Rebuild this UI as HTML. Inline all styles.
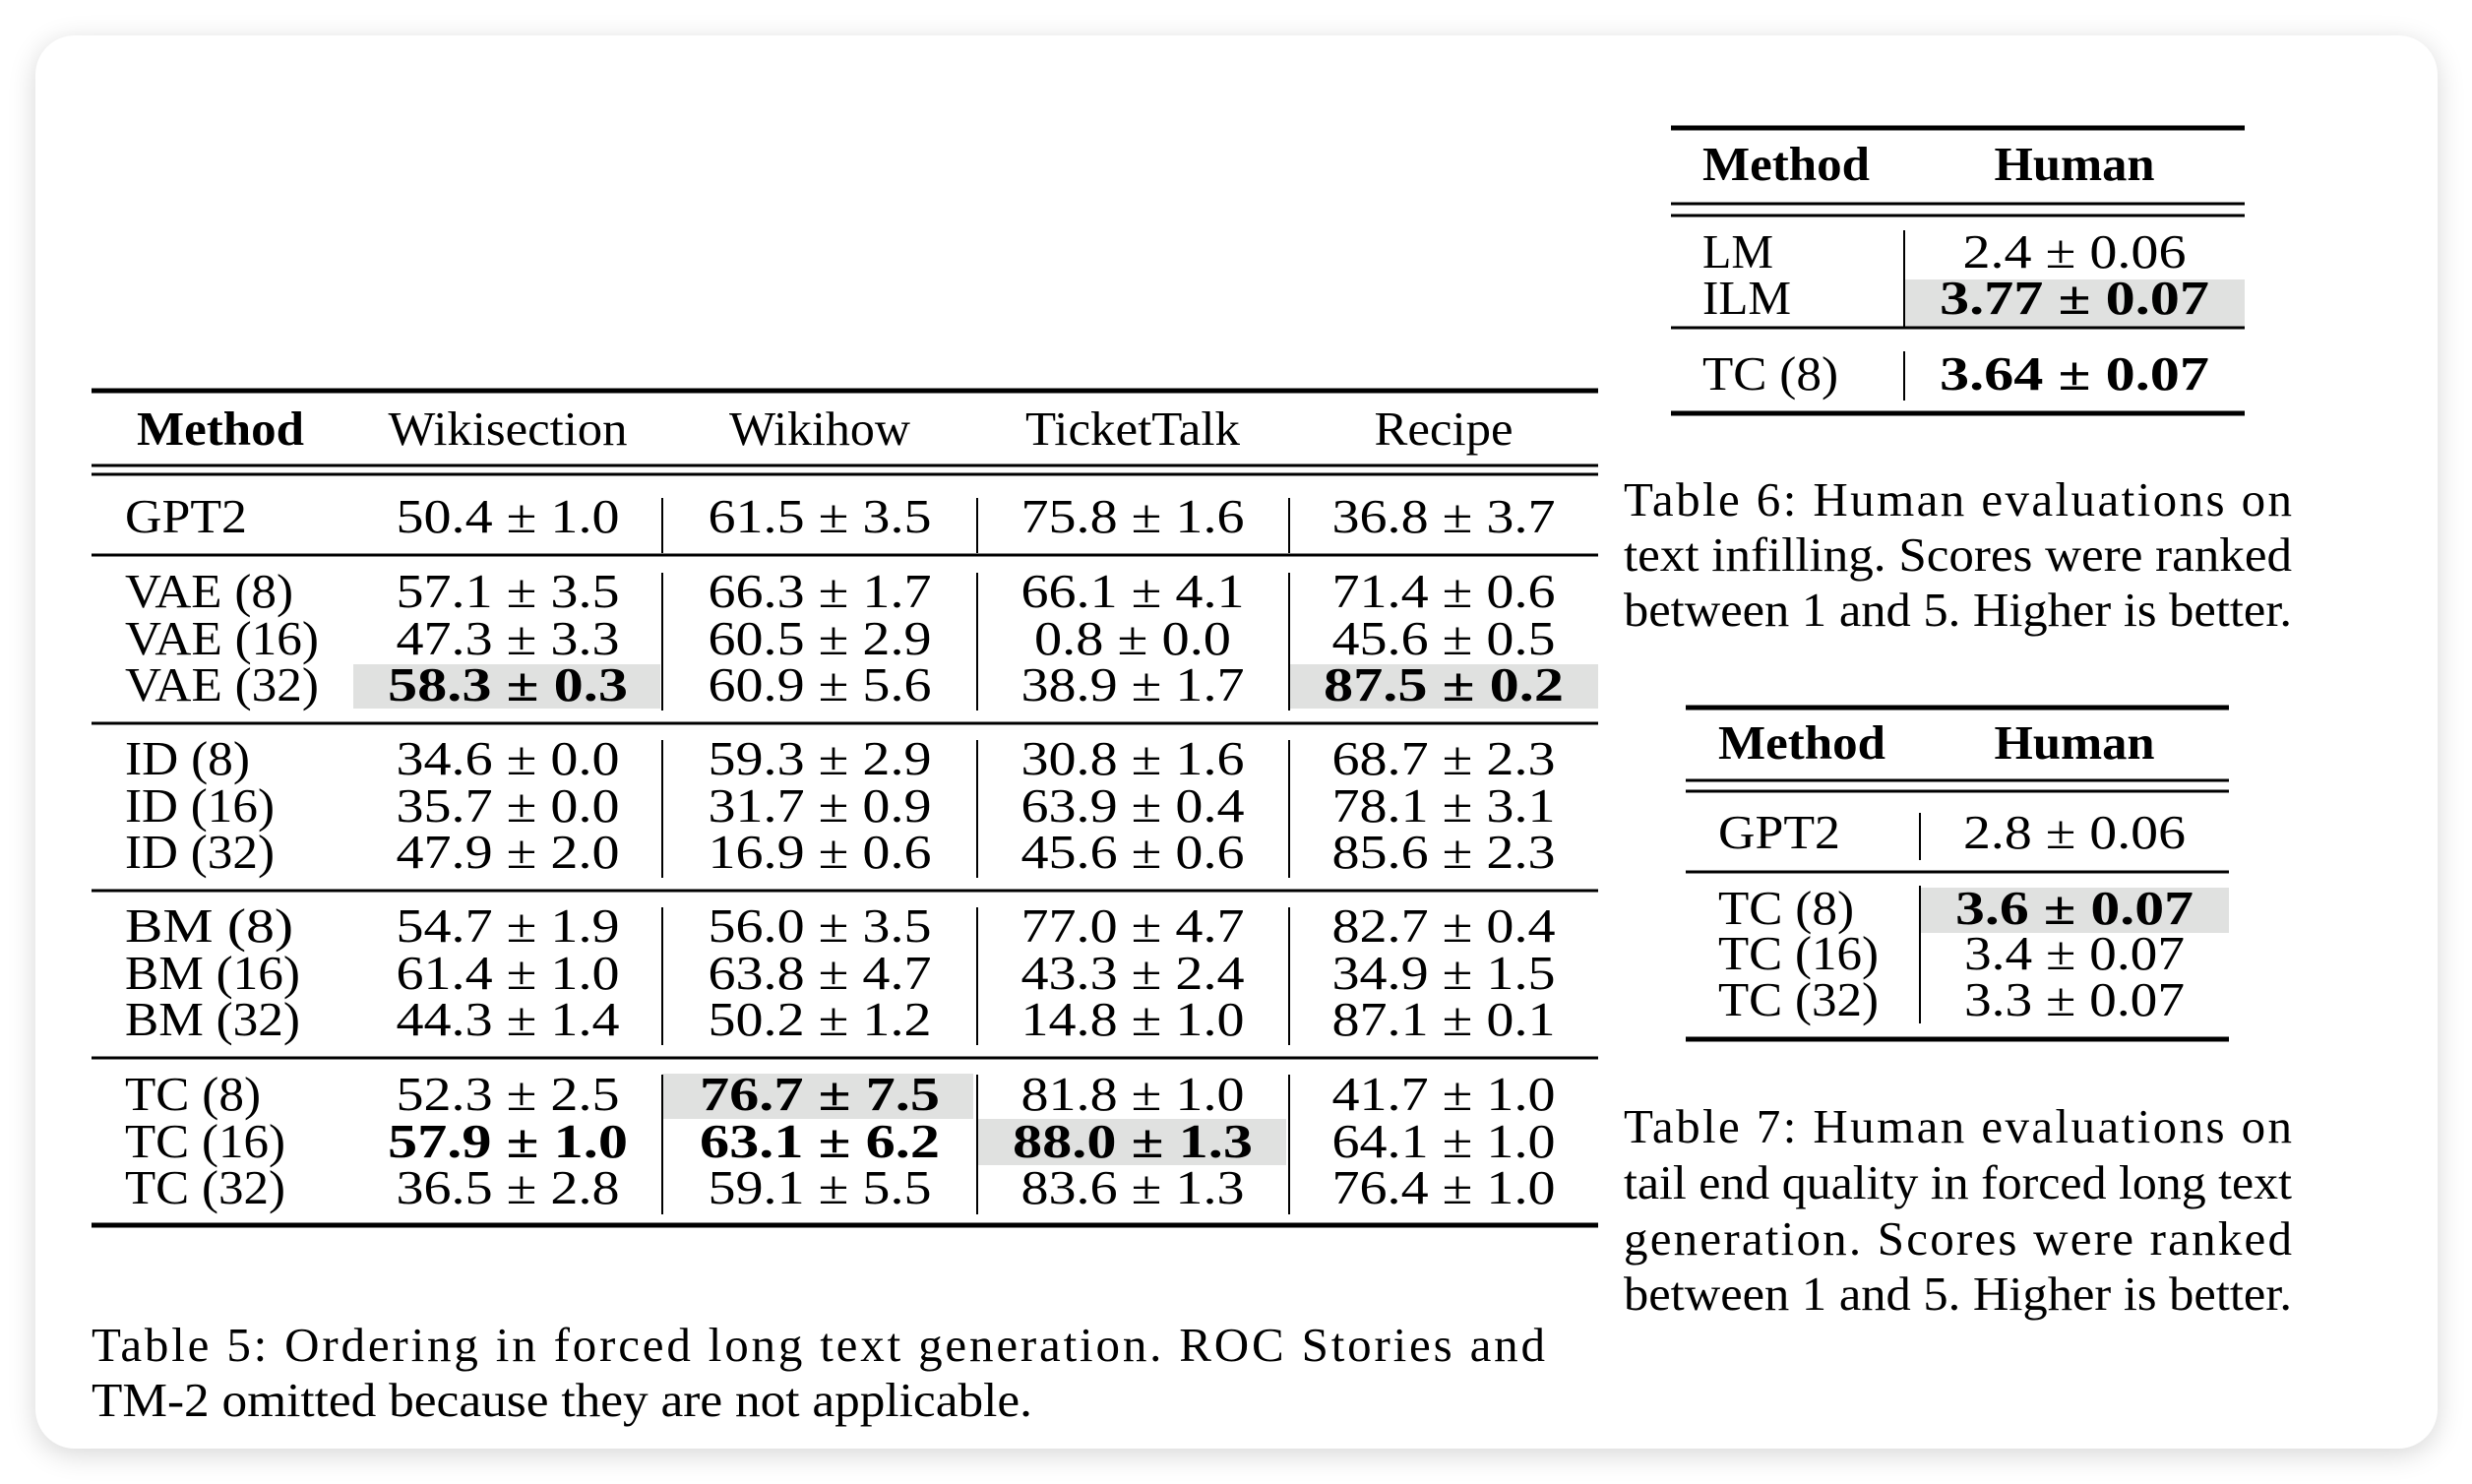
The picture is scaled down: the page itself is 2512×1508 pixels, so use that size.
<!DOCTYPE html>
<html><head><meta charset="utf-8"><style>
html,body{margin:0;padding:0;background:#fff;}
.wrap{position:relative;width:2512px;height:1508px;overflow:hidden;background:#fff;}
.card{position:absolute;left:36px;top:36px;width:2441px;height:1436px;background:#fff;border-radius:40px;box-shadow:0 6px 28px rgba(0,0,0,0.16);}
svg{position:absolute;left:0;top:0;}
svg text{font-family:"Liberation Serif","Times New Roman",Times,serif;font-size:49px;fill:#000;}
.b{font-weight:bold;}
.c{text-anchor:middle;}
</style></head><body><div class="wrap"><div class="card"></div>
<svg width="2512" height="1508" viewBox="0 0 2512 1508" font-family="Liberation Serif, Times New Roman, serif">
<g fill="#e0e1e0">
<rect x="359" y="675" width="312" height="45"/>
<rect x="1310" y="675" width="314" height="45"/>
<rect x="673" y="1091" width="316" height="46"/>
<rect x="993" y="1137" width="314" height="47"/>
<rect x="1935" y="284" width="346" height="48"/>
<rect x="1951" y="902" width="314" height="46"/>
</g>
<g stroke="#000">
<line x1="93" x2="1624" y1="397" y2="397" stroke-width="5"/>
<line x1="93" x2="1624" y1="473" y2="473" stroke-width="3"/>
<line x1="93" x2="1624" y1="482" y2="482" stroke-width="3"/>
<line x1="93" x2="1624" y1="564" y2="564" stroke-width="3"/>
<line x1="93" x2="1624" y1="735" y2="735" stroke-width="3"/>
<line x1="93" x2="1624" y1="905" y2="905" stroke-width="3"/>
<line x1="93" x2="1624" y1="1075" y2="1075" stroke-width="3"/>
<line x1="93" x2="1624" y1="1245" y2="1245" stroke-width="5"/>
</g>
<g stroke="#000" stroke-width="2">
<line x1="673" x2="673" y1="506" y2="562"/><line x1="993" x2="993" y1="506" y2="562"/><line x1="1310" x2="1310" y1="506" y2="562"/>
<line x1="673" x2="673" y1="582" y2="722"/><line x1="993" x2="993" y1="582" y2="722"/><line x1="1310" x2="1310" y1="582" y2="722"/>
<line x1="673" x2="673" y1="752" y2="892"/><line x1="993" x2="993" y1="752" y2="892"/><line x1="1310" x2="1310" y1="752" y2="892"/>
<line x1="673" x2="673" y1="922" y2="1062"/><line x1="993" x2="993" y1="922" y2="1062"/><line x1="1310" x2="1310" y1="922" y2="1062"/>
<line x1="673" x2="673" y1="1092" y2="1234"/><line x1="993" x2="993" y1="1092" y2="1234"/><line x1="1310" x2="1310" y1="1092" y2="1234"/>
</g>
<text class="b c" x="224" y="452" textLength="170" lengthAdjust="spacingAndGlyphs">Method</text>
<text class="c" x="516" y="452" textLength="243" lengthAdjust="spacingAndGlyphs">Wikisection</text>
<text class="c" x="833" y="452" textLength="184" lengthAdjust="spacingAndGlyphs">Wikihow</text>
<text class="c" x="1151" y="452" textLength="218" lengthAdjust="spacingAndGlyphs">TicketTalk</text>
<text class="c" x="1467" y="452" textLength="141" lengthAdjust="spacingAndGlyphs">Recipe</text>
<g>
<text x="127" y="541" textLength="124" lengthAdjust="spacingAndGlyphs">GPT2</text>
<text x="127" y="617" textLength="171" lengthAdjust="spacingAndGlyphs">VAE (8)</text>
<text x="127" y="665" textLength="197" lengthAdjust="spacingAndGlyphs">VAE (16)</text>
<text x="127" y="712" textLength="197" lengthAdjust="spacingAndGlyphs">VAE (32)</text>
<text x="127" y="787" textLength="127" lengthAdjust="spacingAndGlyphs">ID (8)</text>
<text x="127" y="835" textLength="152" lengthAdjust="spacingAndGlyphs">ID (16)</text>
<text x="127" y="882" textLength="152" lengthAdjust="spacingAndGlyphs">ID (32)</text>
<text x="127" y="957" textLength="171" lengthAdjust="spacingAndGlyphs">BM (8)</text>
<text x="127" y="1005" textLength="178" lengthAdjust="spacingAndGlyphs">BM (16)</text>
<text x="127" y="1052" textLength="178" lengthAdjust="spacingAndGlyphs">BM (32)</text>
<text x="127" y="1128" textLength="138" lengthAdjust="spacingAndGlyphs">TC (8)</text>
<text x="127" y="1176" textLength="163" lengthAdjust="spacingAndGlyphs">TC (16)</text>
<text x="127" y="1223" textLength="163" lengthAdjust="spacingAndGlyphs">TC (32)</text>
</g>
<g>
<text class="c" x="516" y="541" textLength="227" lengthAdjust="spacingAndGlyphs">50.4 ± 1.0</text>
<text class="c" x="833" y="541" textLength="227" lengthAdjust="spacingAndGlyphs">61.5 ± 3.5</text>
<text class="c" x="1151" y="541" textLength="227" lengthAdjust="spacingAndGlyphs">75.8 ± 1.6</text>
<text class="c" x="1467" y="541" textLength="227" lengthAdjust="spacingAndGlyphs">36.8 ± 3.7</text>
<text class="c" x="516" y="617" textLength="227" lengthAdjust="spacingAndGlyphs">57.1 ± 3.5</text>
<text class="c" x="833" y="617" textLength="227" lengthAdjust="spacingAndGlyphs">66.3 ± 1.7</text>
<text class="c" x="1151" y="617" textLength="227" lengthAdjust="spacingAndGlyphs">66.1 ± 4.1</text>
<text class="c" x="1467" y="617" textLength="227" lengthAdjust="spacingAndGlyphs">71.4 ± 0.6</text>
<text class="c" x="516" y="665" textLength="227" lengthAdjust="spacingAndGlyphs">47.3 ± 3.3</text>
<text class="c" x="833" y="665" textLength="227" lengthAdjust="spacingAndGlyphs">60.5 ± 2.9</text>
<text class="c" x="1151" y="665" textLength="200" lengthAdjust="spacingAndGlyphs">0.8 ± 0.0</text>
<text class="c" x="1467" y="665" textLength="227" lengthAdjust="spacingAndGlyphs">45.6 ± 0.5</text>
<text class="c b" x="516" y="712" textLength="244" lengthAdjust="spacingAndGlyphs">58.3 ± 0.3</text>
<text class="c" x="833" y="712" textLength="227" lengthAdjust="spacingAndGlyphs">60.9 ± 5.6</text>
<text class="c" x="1151" y="712" textLength="227" lengthAdjust="spacingAndGlyphs">38.9 ± 1.7</text>
<text class="c b" x="1467" y="712" textLength="244" lengthAdjust="spacingAndGlyphs">87.5 ± 0.2</text>
<text class="c" x="516" y="787" textLength="227" lengthAdjust="spacingAndGlyphs">34.6 ± 0.0</text>
<text class="c" x="833" y="787" textLength="227" lengthAdjust="spacingAndGlyphs">59.3 ± 2.9</text>
<text class="c" x="1151" y="787" textLength="227" lengthAdjust="spacingAndGlyphs">30.8 ± 1.6</text>
<text class="c" x="1467" y="787" textLength="227" lengthAdjust="spacingAndGlyphs">68.7 ± 2.3</text>
<text class="c" x="516" y="835" textLength="227" lengthAdjust="spacingAndGlyphs">35.7 ± 0.0</text>
<text class="c" x="833" y="835" textLength="227" lengthAdjust="spacingAndGlyphs">31.7 ± 0.9</text>
<text class="c" x="1151" y="835" textLength="227" lengthAdjust="spacingAndGlyphs">63.9 ± 0.4</text>
<text class="c" x="1467" y="835" textLength="227" lengthAdjust="spacingAndGlyphs">78.1 ± 3.1</text>
<text class="c" x="516" y="882" textLength="227" lengthAdjust="spacingAndGlyphs">47.9 ± 2.0</text>
<text class="c" x="833" y="882" textLength="227" lengthAdjust="spacingAndGlyphs">16.9 ± 0.6</text>
<text class="c" x="1151" y="882" textLength="227" lengthAdjust="spacingAndGlyphs">45.6 ± 0.6</text>
<text class="c" x="1467" y="882" textLength="227" lengthAdjust="spacingAndGlyphs">85.6 ± 2.3</text>
<text class="c" x="516" y="957" textLength="227" lengthAdjust="spacingAndGlyphs">54.7 ± 1.9</text>
<text class="c" x="833" y="957" textLength="227" lengthAdjust="spacingAndGlyphs">56.0 ± 3.5</text>
<text class="c" x="1151" y="957" textLength="227" lengthAdjust="spacingAndGlyphs">77.0 ± 4.7</text>
<text class="c" x="1467" y="957" textLength="227" lengthAdjust="spacingAndGlyphs">82.7 ± 0.4</text>
<text class="c" x="516" y="1005" textLength="227" lengthAdjust="spacingAndGlyphs">61.4 ± 1.0</text>
<text class="c" x="833" y="1005" textLength="227" lengthAdjust="spacingAndGlyphs">63.8 ± 4.7</text>
<text class="c" x="1151" y="1005" textLength="227" lengthAdjust="spacingAndGlyphs">43.3 ± 2.4</text>
<text class="c" x="1467" y="1005" textLength="227" lengthAdjust="spacingAndGlyphs">34.9 ± 1.5</text>
<text class="c" x="516" y="1052" textLength="227" lengthAdjust="spacingAndGlyphs">44.3 ± 1.4</text>
<text class="c" x="833" y="1052" textLength="227" lengthAdjust="spacingAndGlyphs">50.2 ± 1.2</text>
<text class="c" x="1151" y="1052" textLength="227" lengthAdjust="spacingAndGlyphs">14.8 ± 1.0</text>
<text class="c" x="1467" y="1052" textLength="227" lengthAdjust="spacingAndGlyphs">87.1 ± 0.1</text>
<text class="c" x="516" y="1128" textLength="227" lengthAdjust="spacingAndGlyphs">52.3 ± 2.5</text>
<text class="c b" x="833" y="1128" textLength="244" lengthAdjust="spacingAndGlyphs">76.7 ± 7.5</text>
<text class="c" x="1151" y="1128" textLength="227" lengthAdjust="spacingAndGlyphs">81.8 ± 1.0</text>
<text class="c" x="1467" y="1128" textLength="227" lengthAdjust="spacingAndGlyphs">41.7 ± 1.0</text>
<text class="c b" x="516" y="1176" textLength="244" lengthAdjust="spacingAndGlyphs">57.9 ± 1.0</text>
<text class="c b" x="833" y="1176" textLength="244" lengthAdjust="spacingAndGlyphs">63.1 ± 6.2</text>
<text class="c b" x="1151" y="1176" textLength="244" lengthAdjust="spacingAndGlyphs">88.0 ± 1.3</text>
<text class="c" x="1467" y="1176" textLength="227" lengthAdjust="spacingAndGlyphs">64.1 ± 1.0</text>
<text class="c" x="516" y="1223" textLength="227" lengthAdjust="spacingAndGlyphs">36.5 ± 2.8</text>
<text class="c" x="833" y="1223" textLength="227" lengthAdjust="spacingAndGlyphs">59.1 ± 5.5</text>
<text class="c" x="1151" y="1223" textLength="227" lengthAdjust="spacingAndGlyphs">83.6 ± 1.3</text>
<text class="c" x="1467" y="1223" textLength="227" lengthAdjust="spacingAndGlyphs">76.4 ± 1.0</text>
</g>
<text x="93" y="1383" textLength="1477" lengthAdjust="spacing">Table 5:  Ordering in forced long text generation.  ROC Stories and</text>
<text x="93" y="1439" textLength="956" lengthAdjust="spacingAndGlyphs">TM-2 omitted because they are not applicable.</text>

<g stroke="#000">
<line x1="1698" x2="2281" y1="130" y2="130" stroke-width="5"/>
<line x1="1698" x2="2281" y1="207" y2="207" stroke-width="3"/>
<line x1="1698" x2="2281" y1="219" y2="219" stroke-width="3"/>
<line x1="1698" x2="2281" y1="333" y2="333" stroke-width="3"/>
<line x1="1698" x2="2281" y1="420" y2="420" stroke-width="5"/>
<line x1="1935" x2="1935" y1="234" y2="332" stroke-width="2"/>
<line x1="1935" x2="1935" y1="357" y2="407" stroke-width="2"/>
</g>
<text class="b c" x="1815" y="183" textLength="170" lengthAdjust="spacingAndGlyphs">Method</text>
<text class="b c" x="2108" y="183" textLength="163" lengthAdjust="spacingAndGlyphs">Human</text>
<text x="1730" y="272" textLength="72" lengthAdjust="spacingAndGlyphs">LM</text>
<text x="1730" y="319" textLength="90" lengthAdjust="spacingAndGlyphs">ILM</text>
<text x="1730" y="396" textLength="138" lengthAdjust="spacingAndGlyphs">TC (8)</text>
<text class="c" x="2108" y="272" textLength="227" lengthAdjust="spacingAndGlyphs">2.4 ± 0.06</text>
<text class="c b" x="2108" y="319" textLength="274" lengthAdjust="spacingAndGlyphs">3.77 ± 0.07</text>
<text class="c b" x="2108" y="396" textLength="274" lengthAdjust="spacingAndGlyphs">3.64 ± 0.07</text>
<text x="1650" y="524" textLength="679" lengthAdjust="spacing">Table 6:  Human evaluations on</text>
<text x="1650" y="580" textLength="679" lengthAdjust="spacingAndGlyphs">text infilling. Scores were ranked</text>
<text x="1650" y="636" textLength="679" lengthAdjust="spacingAndGlyphs">between 1 and 5. Higher is better.</text>

<g stroke="#000">
<line x1="1713" x2="2265" y1="719" y2="719" stroke-width="5"/>
<line x1="1713" x2="2265" y1="793" y2="793" stroke-width="3"/>
<line x1="1713" x2="2265" y1="804" y2="804" stroke-width="3"/>
<line x1="1713" x2="2265" y1="886" y2="886" stroke-width="3"/>
<line x1="1713" x2="2265" y1="1056" y2="1056" stroke-width="5"/>
<line x1="1951" x2="1951" y1="826" y2="874" stroke-width="2"/>
<line x1="1951" x2="1951" y1="900" y2="1040" stroke-width="2"/>
</g>
<text class="b c" x="1831" y="771" textLength="170" lengthAdjust="spacingAndGlyphs">Method</text>
<text class="b c" x="2108" y="771" textLength="163" lengthAdjust="spacingAndGlyphs">Human</text>
<text x="1746" y="862" textLength="124" lengthAdjust="spacingAndGlyphs">GPT2</text>
<text x="1746" y="939" textLength="138" lengthAdjust="spacingAndGlyphs">TC (8)</text>
<text x="1746" y="985" textLength="163" lengthAdjust="spacingAndGlyphs">TC (16)</text>
<text x="1746" y="1032" textLength="163" lengthAdjust="spacingAndGlyphs">TC (32)</text>
<text class="c" x="2108" y="862" textLength="226" lengthAdjust="spacingAndGlyphs">2.8 ± 0.06</text>
<text class="c b" x="2108" y="939" textLength="242" lengthAdjust="spacingAndGlyphs">3.6 ± 0.07</text>
<text class="c" x="2108" y="985" textLength="224" lengthAdjust="spacingAndGlyphs">3.4 ± 0.07</text>
<text class="c" x="2108" y="1032" textLength="224" lengthAdjust="spacingAndGlyphs">3.3 ± 0.07</text>
<text x="1650" y="1161" textLength="679" lengthAdjust="spacing">Table 7:  Human evaluations on</text>
<text x="1650" y="1218" textLength="679" lengthAdjust="spacingAndGlyphs">tail end quality in forced long text</text>
<text x="1650" y="1275" textLength="679" lengthAdjust="spacing">generation.  Scores were ranked</text>
<text x="1650" y="1331" textLength="679" lengthAdjust="spacingAndGlyphs">between 1 and 5. Higher is better.</text>
</svg></div></body></html>
